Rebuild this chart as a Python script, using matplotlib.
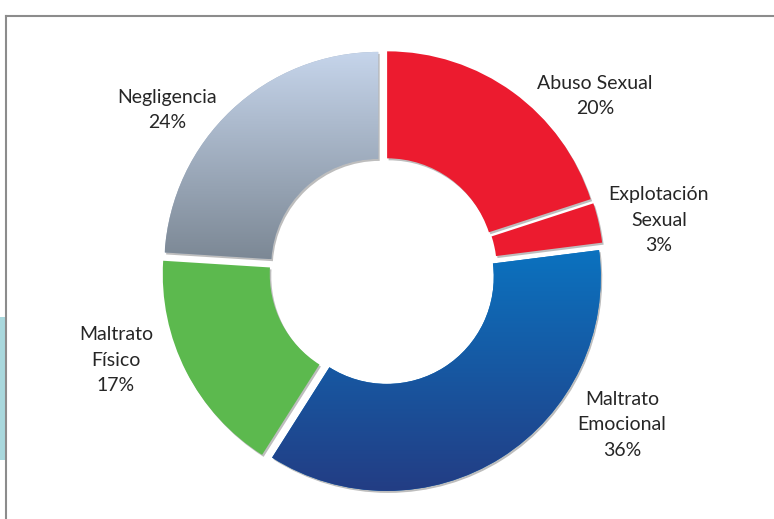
import matplotlib.pyplot as plt
import numpy as np
from matplotlib.patches import Rectangle, Wedge
from matplotlib.lines import Line2D
from matplotlib.colors import LinearSegmentedColormap

# data
categorias = ['Abuso Sexual', 'Explotación\nSexual', 'Maltrato\nEmocional',
              'Maltrato\nFísico', 'Negligencia']
valores = [20, 3, 36, 17, 24]
porcentajes = ['20%', '3%', '36%', '17%', '24%']

W, H = 774, 519
fig = plt.figure(figsize=(7.74, 5.19), dpi=100)
ax = fig.add_axes([0, 0, 1, 1])

cx, cy = 383, H - 271
R = 214
ring = 107

colores = ['#ec1b2f', '#ec1b2f', '#0a6fbd', '#5cb94e', '#a4b3c6']
# gradients (bottom color, top color) for the shaded slices
gradientes = {2: ('#233d84', '#0b72bf'), 4: ('#7c8895', '#c6d5eb')}

# explode is in data units (pixels here)
wedges, _ = ax.pie(valores, radius=R, center=(cx, cy), startangle=90,
                   counterclock=False, colors=colores,
                   explode=[7] * len(valores),
                   wedgeprops=dict(width=ring, linewidth=0))

grad = np.linspace(0, 1, 256).reshape(-1, 1)
for i, w in enumerate(wedges):
    # soft shadow
    sh = Wedge((w.center[0] + 1.5, w.center[1] - 2), w.r, w.theta1, w.theta2,
               width=w.width, facecolor='#bdbdbd', edgecolor='none', zorder=0.5)
    ax.add_patch(sh)
    w.set_zorder(1)
    if i in gradientes:
        bb = w.get_path().get_extents()
        cmap = LinearSegmentedColormap.from_list('g%d' % i, list(gradientes[i]))
        im = ax.imshow(grad, cmap=cmap, origin='lower', aspect='auto',
                       extent=[bb.x0, bb.x1, bb.y0, bb.y1], zorder=2)
        im.set_clip_path(w)

# labels
pos_etiquetas = [(595, 96), (659, 220), (622, 425), (116, 360), (167, 110)]
for cat, pct, (x, y) in zip(categorias, porcentajes, pos_etiquetas):
    ax.text(x, H - y, cat + '\n' + pct, ha='center', va='center',
            fontsize=14, family='Lato', color='#262626', linespacing=1.63)

ax.set_xlim(0, W)
ax.set_ylim(0, H)
ax.set_aspect('auto')
ax.axis('off')

# frame lines and the small side tab
fig.add_artist(Line2D([5.5 / W, 1], [1 - 16 / H, 1 - 16 / H], color='#8c8c8c', lw=1.5))
fig.add_artist(Line2D([5.5 / W, 5.5 / W], [0, 1 - 16 / H], color='#8c8c8c', lw=1.5))
fig.add_artist(Rectangle((0, 1 - 460 / H), 4.5 / W, 143 / H,
                         facecolor='#a9d8dd', edgecolor='none'))

fig.savefig('out.png', dpi=100)
